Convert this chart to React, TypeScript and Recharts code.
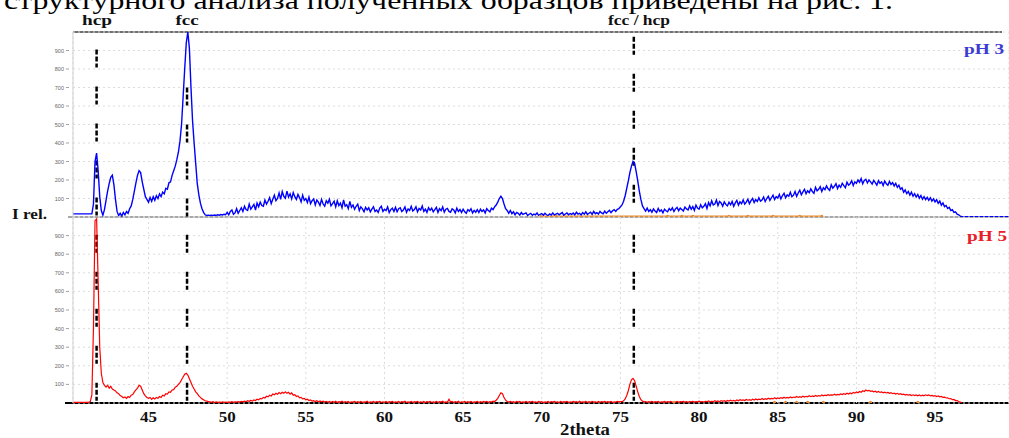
import React from 'react';
import { LineChart, Line, XAxis, YAxis, CartesianGrid, ReferenceLine } from 'recharts';

// scan grid of the diffractometer (2theta, degrees)
const scanStart = 40.2;
const scanStep = 0.1;

// pH 3 intensity, one row per degree of 2theta (first row starts at 40.2)
const pH3Counts = [
  17, 17, 17, 17, 17, 17, 17, 17,
  17, 17, 17, 17, 17, 70, 300, 345, 250, 110, // 41
  35, 10, 40, 90, 140, 180, 215, 226, 175, 95, // 42
  30, 8, 20, 5, 25, 12, 30, 20, 45, 60, // 43
  95, 140, 185, 225, 250, 240, 190, 150, 110, 95, // 44
  80, 105, 85, 110, 90, 115, 100, 125, 110, 135, // 45
  125, 155, 150, 185, 190, 225, 250, 275, 310, 350, // 46
  410, 500, 650, 800, 940, 1000, 910, 700, 520, 400, // 47
  290, 180, 120, 75, 45, 25, 12, 8, 10, 8, // 48
  10, 9, 11, 9, 12, 10, 13, 11, 15, 12, // 49
  25, 12, 30, 38, 15, 22, 45, 20, 35, 50, // 50
  30, 58, 40, 35, 70, 42, 55, 68, 38, 75, // 51
  55, 80, 62, 58, 92, 70, 85, 105, 72, 96, // 52
  118, 88, 100, 130, 95, 138, 112, 102, 140, 108, // 53
  125, 98, 132, 110, 95, 122, 105, 82, 118, 90, // 54
  100, 78, 108, 72, 88, 98, 65, 92, 80, 62, // 55
  95, 70, 58, 88, 75, 96, 60, 72, 85, 55, // 56
  88, 62, 75, 50, 92, 58, 66, 45, 84, 52, // 57
  65, 42, 58, 70, 35, 55, 44, 28, 52, 38, // 58
  50, 28, 42, 55, 30, 38, 25, 48, 58, 30, // 59
  42, 35, 55, 24, 40, 48, 30, 52, 28, 45, // 60
  50, 30, 38, 55, 26, 44, 35, 58, 32, 40, // 61
  55, 28, 46, 38, 60, 30, 42, 25, 50, 36, // 62
  48, 28, 40, 52, 25, 45, 34, 55, 26, 42, // 63
  46, 30, 25, 44, 38, 22, 48, 30, 40, 24, // 64
  42, 28, 20, 40, 32, 45, 22, 36, 26, 40, // 65
  24, 42, 30, 38, 22, 45, 35, 28, 48, 40, // 66
  55, 65, 80, 100, 112, 100, 70, 45, 35, 20, // 67
  35, 18, 28, 12, 25, 20, 10, 24, 14, 18, // 68
  22, 8, 15, 20, 9, 16, 12, 22, 8, 14, // 69
  18, 10, 20, 12, 8, 17, 11, 22, 10, 15, // 70
  20, 12, 18, 24, 10, 16, 22, 12, 19, 14, // 71
  22, 12, 26, 16, 20, 11, 24, 15, 28, 14, // 72
  20, 26, 14, 30, 18, 24, 16, 30, 22, 17, // 73
  32, 20, 28, 36, 24, 34, 40, 30, 42, 45, // 74
  55, 65, 85, 115, 155, 195, 240, 275, 300, 290, // 75
  245, 195, 140, 95, 60, 45, 32, 48, 30, 40, // 76
  26, 44, 32, 24, 46, 30, 38, 22, 42, 34, // 77
  28, 46, 36, 50, 30, 44, 52, 34, 48, 40, // 78
  32, 54, 44, 38, 60, 42, 56, 36, 64, 48, // 79
  42, 66, 50, 58, 72, 46, 78, 60, 88, 65, // 80
  70, 92, 62, 84, 76, 58, 82, 68, 60, 80, // 81
  66, 84, 58, 76, 90, 64, 82, 72, 92, 70, // 82
  80, 96, 72, 88, 100, 78, 94, 84, 104, 86, // 83
  92, 108, 84, 100, 112, 90, 104, 118, 94, 110, // 84
  102, 122, 98, 116, 128, 104, 120, 112, 134, 110, // 85
  118, 138, 112, 130, 145, 120, 136, 150, 126, 142, // 86
  132, 152, 138, 128, 160, 142, 150, 164, 138, 158, // 87
  148, 168, 152, 144, 174, 156, 166, 180, 154, 172, // 88
  160, 182, 170, 158, 188, 172, 180, 196, 170, 190, // 89
  182, 200, 188, 208, 180, 198, 204, 184, 200, 190, // 90
  178, 198, 186, 172, 196, 182, 190, 170, 194, 180, // 91
  172, 192, 176, 186, 168, 182, 160, 172, 150, 158, // 92
  134, 146, 126, 138, 118, 134, 112, 126, 108, 122, // 93
  102, 116, 96, 110, 94, 106, 90, 104, 86, 98, // 94
  82, 94, 74, 86, 64, 76, 56, 62, 46, 52, // 95
  35, 40, 25, 28, 15, 12, 5, 2, 2, 2, // 96
  2, 2, 2, 2, 2, 2, 2, 2, 2, 2, // 97
  2, 2, 2, 2, 2, 2, 2, 2, 2, 2, // 98
  2, 2, 2, 2, 2, 2, 2, 2, // 99
];

// pH 5 intensity, same grid, the scan stops near 96.7
const pH5Counts = [
  3, 3, 3, 3, 3, 3, 3, 3,
  3, 3, 4, 8, 45, 400, 980, 990, 650, 300, // 41
  160, 110, 95, 85, 95, 80, 90, 75, 70, 65, // 42
  55, 50, 40, 35, 28, 32, 25, 35, 30, 42, // 43
  45, 60, 70, 80, 95, 90, 70, 50, 38, 30, // 44
  25, 30, 20, 28, 22, 30, 25, 35, 30, 42, // 45
  38, 50, 48, 60, 58, 70, 72, 85, 90, 100, // 46
  110, 125, 140, 155, 160, 150, 130, 110, 90, 75, // 47
  60, 50, 38, 30, 22, 18, 12, 10, 8, 6, // 48
  4, 7, 3, 6, 4, 5, 3, 6, 4, 5, // 49
  3, 6, 4, 7, 4, 6, 5, 8, 5, 9, // 50
  6, 10, 7, 12, 9, 14, 10, 16, 13, 20, // 51
  17, 25, 22, 30, 27, 36, 33, 42, 38, 48, // 52
  44, 52, 47, 56, 50, 58, 52, 60, 52, 58, // 53
  48, 54, 42, 45, 35, 38, 28, 30, 22, 25, // 54
  17, 20, 13, 16, 10, 13, 8, 12, 7, 11, // 55
  6, 10, 5, 9, 4, 8, 3, 8, 4, 9, // 56
  2, 7, 5, 10, 3, 7, 4, 8, 2, 6, // 57
  5, 9, 3, 7, 4, 8, 3, 6, 5, 9, // 58
  2, 6, 4, 8, 3, 7, 5, 9, 3, 6, // 59
  4, 8, 2, 7, 5, 9, 3, 6, 4, 8, // 60
  3, 7, 5, 10, 2, 6, 4, 8, 3, 7, // 61
  5, 9, 3, 6, 4, 8, 2, 7, 5, 9, // 62
  3, 6, 4, 8, 3, 7, 5, 10, 3, 6, // 63
  4, 20, 5, 8, 3, 7, 4, 9, 2, 6, // 64
  5, 9, 3, 7, 4, 8, 3, 6, 5, 9, // 65
  3, 7, 4, 8, 5, 9, 3, 7, 5, 10, // 66
  8, 15, 25, 40, 55, 50, 30, 15, 8, 5, // 67
  9, 4, 7, 3, 8, 5, 9, 3, 6, 4, // 68
  8, 3, 7, 5, 9, 4, 6, 3, 8, 5, // 69
  7, 3, 6, 4, 8, 3, 7, 5, 9, 4, // 70
  6, 3, 8, 4, 7, 5, 9, 3, 6, 4, // 71
  8, 5, 7, 3, 9, 4, 6, 5, 8, 3, // 72
  7, 4, 9, 5, 6, 3, 8, 4, 7, 5, // 73
  9, 4, 7, 5, 8, 3, 6, 5, 9, 6, // 74
  8, 7, 12, 22, 40, 66, 100, 125, 132, 120, // 75
  90, 60, 35, 18, 10, 6, 8, 4, 7, 5, // 76
  8, 4, 7, 5, 9, 3, 6, 5, 8, 4, // 77
  7, 5, 9, 4, 6, 5, 8, 4, 7, 6, // 78
  9, 5, 7, 4, 8, 6, 9, 5, 7, 6, // 79
  10, 6, 8, 5, 9, 7, 11, 6, 9, 7, // 80
  12, 8, 11, 7, 13, 9, 12, 8, 14, 10, // 81
  15, 11, 14, 10, 16, 12, 18, 14, 17, 13, // 82
  19, 15, 18, 14, 20, 16, 22, 17, 21, 18, // 83
  24, 19, 23, 20, 26, 21, 25, 22, 28, 23, // 84
  27, 24, 29, 25, 31, 26, 30, 27, 33, 28, // 85
  32, 29, 35, 30, 34, 31, 37, 32, 36, 33, // 86
  39, 34, 38, 35, 41, 36, 40, 37, 43, 39, // 87
  42, 40, 45, 41, 44, 42, 47, 43, 46, 44, // 88
  49, 45, 50, 47, 53, 48, 54, 50, 57, 53, // 89
  59, 55, 62, 58, 66, 62, 70, 65, 68, 63, // 90
  65, 60, 63, 58, 62, 57, 60, 55, 58, 54, // 91
  57, 52, 55, 50, 53, 48, 52, 47, 50, 45, // 92
  48, 43, 46, 42, 45, 40, 44, 40, 43, 39, // 93
  43, 38, 42, 39, 44, 40, 43, 38, 41, 37, // 94
  40, 35, 38, 33, 35, 30, 32, 27, 28, 23, // 95
  24, 18, 19, 13, 13, 8, 5, 1, // 96
];

// reference pattern marks (orange) near the baseline
const refTopTheta = [69.9, 70.9, 78.0, 78.9, 79.6, 81.9, 83.1, 84.7, 86.4, 87.8];
const refBottomTheta = [78.4, 84.8, 85.5, 86.2, 86.9, 87.9, 90.9, 93.9];
const refLevel = 4;

// phase markers: position and where the dashed line starts in the top panel
const phaseTheta = [41.7, 47.45, 75.85];
const phaseTopStart = [905, 700, 975];
const bottomStart = 905;

const xTicks = [45, 50, 55, 60, 65, 70, 75, 80, 85, 90, 95];
const yTicks = [100, 200, 300, 400, 500, 600, 700, 800, 900];
const xDomain = [40.2, 99.7];

const rows = pH3Counts.map((v, i) => ({
  theta: Math.round((scanStart + i * scanStep) * 10) / 10,
  pH3: v,
  pH5: i < pH5Counts.length ? pH5Counts[i] : null,
}));

const refTop = refTopTheta.map((t) => ({ theta: t, ref: refLevel }));
const refBottom = refBottomTheta.map((t) => ({ theta: t, ref: refLevel }));

const serif = "'Times New Roman', 'Liberation Serif', serif";
const dash = '5 2 5 2 4 19';

const YTick = (props: any) => {
  const { y, payload } = props;
  return (
    <g>
      <text x={64} y={y} dy={2} textAnchor="end" fontSize={5.5} fill="#666" fontFamily="Arial, sans-serif">
        {payload.value}
      </text>
      <line x1={66} x2={69} y1={y} y2={y} stroke="#888" strokeWidth={0.8} />
    </g>
  );
};

const XTick = (props: any) => {
  const { x, payload } = props;
  return (
    <text x={x - 8.5} y={422} fontSize={15} fontWeight="bold" fontFamily={serif} fill="#111"
      textLength={17} lengthAdjust="spacingAndGlyphs">
      {payload.value}
    </text>
  );
};

// wide bold serif label, stretched like in the scanned figure
const Label = ({ x, y, w, size, fill, children }: any) => (
  <text x={x - w / 2} y={y} fontSize={size} fontWeight="bold" fontFamily={serif} fill={fill}
    textLength={w} lengthAdjust="spacingAndGlyphs">
    {children}
  </text>
);

export default function App() {
  return (
    <div style={{ position: 'fixed', left: 0, top: 0, width: 1009, height: 438, background: '#fff', overflow: 'hidden' }}>
      {/* frame lines */}
      <svg width={1009} height={438} style={{ position: 'absolute', left: 0, top: 0 }}>
        <line x1={73} x2={1002} y1={32} y2={32} stroke="#707070" strokeWidth={2} />
        <line x1={68} x2={1009} y1={217} y2={217} stroke="#a8a8a8" strokeWidth={2} />
        <line x1={65} x2={1009} y1={403} y2={403} stroke="#000" strokeWidth={2} />
      </svg>

      <div style={{ position: 'absolute', left: 0, top: 0 }}>
        <LineChart width={1009} height={438} data={rows} margin={{ top: 32, right: 0, bottom: 221, left: 0 }}>
          <CartesianGrid stroke="#dcdcdc" strokeDasharray="2 3" />
          <XAxis dataKey="theta" type="number" domain={xDomain} ticks={xTicks} allowDataOverflow
            height={0} tick={false} tickLine={false} axisLine={false} />
          <YAxis domain={[0, 1000]} ticks={yTicks} interval={0} allowDataOverflow width={73}
            axisLine={{ stroke: '#cfcfcf' }} tickLine={false} tick={<YTick />} />
          {phaseTheta.map((t, i) => (
            <ReferenceLine key={'t' + i} segment={[{ x: t, y: phaseTopStart[i] }, { x: t, y: 0 }]}
              stroke="#000" strokeWidth={2.5} strokeDasharray={dash} />
          ))}
          <Line data={refTop} dataKey="ref" type="linear" stroke="#e8892e" strokeWidth={1.5}
            dot={{ r: 1.5, fill: '#e8892e', stroke: 'none' }} isAnimationActive={false} />
          <Line dataKey="pH3" type="linear" stroke="#0000ff" strokeWidth={1.4} dot={false} isAnimationActive={false} />
        </LineChart>
      </div>

      <div style={{ position: 'absolute', left: 0, top: 0 }}>
        <LineChart width={1009} height={438} data={rows} margin={{ top: 217, right: 0, bottom: 0, left: 0 }}>
          <CartesianGrid stroke="#dcdcdc" strokeDasharray="2 3" />
          <XAxis dataKey="theta" type="number" domain={xDomain} ticks={xTicks} allowDataOverflow
            height={35} tickLine={false} axisLine={false} tick={<XTick />} />
          <YAxis domain={[0, 1000]} ticks={yTicks} interval={0} allowDataOverflow width={73}
            axisLine={{ stroke: '#cfcfcf' }} tickLine={false} tick={<YTick />} />
          {phaseTheta.map((t, i) => (
            <ReferenceLine key={'b' + i} segment={[{ x: t, y: bottomStart }, { x: t, y: 0 }]}
              stroke="#000" strokeWidth={2.5} strokeDasharray={dash} />
          ))}
          <Line data={refBottom} dataKey="ref" type="linear" stroke="none"
            dot={{ r: 1.5, fill: '#e8892e', stroke: 'none' }} isAnimationActive={false} />
          <Line dataKey="pH5" type="linear" stroke="#ff0000" strokeWidth={1.2} dot={false} isAnimationActive={false} />
        </LineChart>
      </div>

      {/* texts */}
      <svg width={1009} height={438} style={{ position: 'absolute', left: 0, top: 0, pointerEvents: 'none' }}>
        <text x={4} y={9} fontSize={25} fontFamily={serif} fill="#000" textLength={889} lengthAdjust="spacingAndGlyphs">
          структурного анализа полученных образцов приведены на рис. 1.
        </text>
        <Label x={97} y={25} w={30} size={15} fill="#111">hcp</Label>
        <Label x={187} y={25} w={23} size={15} fill="#111">fcc</Label>
        <Label x={639} y={25} w={62} size={15} fill="#111">fcc / hcp</Label>
        <Label x={29.5} y={219} w={35} size={15} fill="#111">I rel.</Label>
        <Label x={984} y={54} w={40} size={15} fill="#3c3cd2">pH 3</Label>
        <Label x={987} y={241} w={40} size={15} fill="#e8202a">pH 5</Label>
        <Label x={585} y={435} w={50} size={16} fill="#111">2theta</Label>
      </svg>
    </div>
  );
}
